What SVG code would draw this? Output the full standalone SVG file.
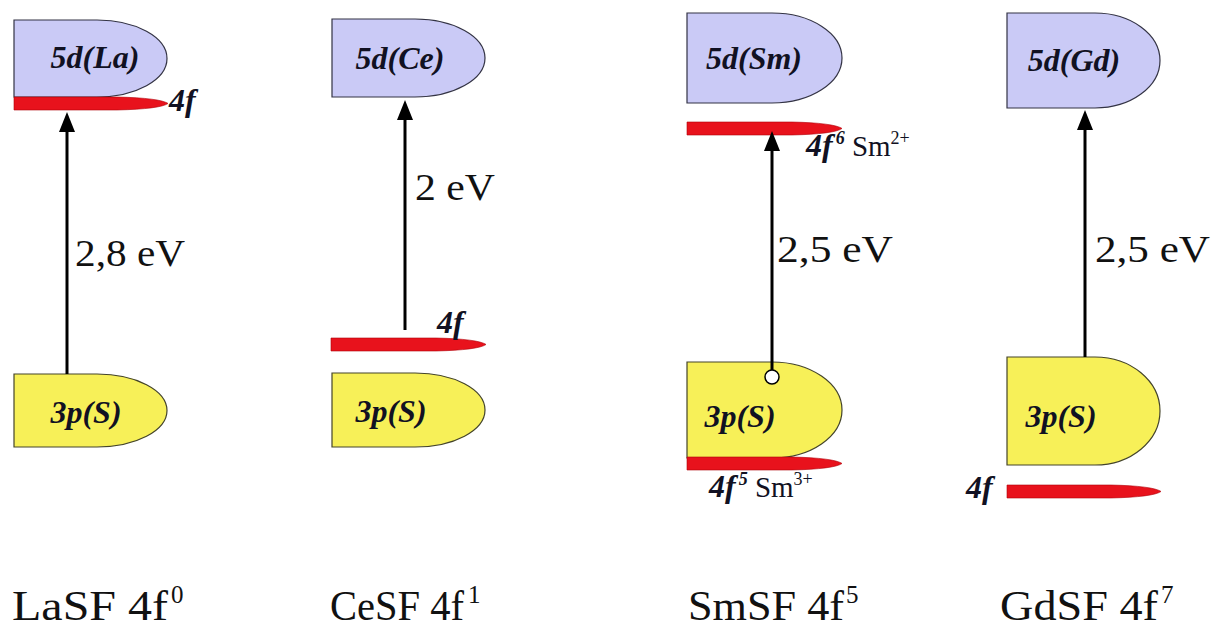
<svg xmlns="http://www.w3.org/2000/svg" width="1215" height="628" viewBox="0 0 1215 628">
<style>
.d5{fill:#cacaf6;stroke:#333344;stroke-width:1.2}
.p3{fill:#f7f058;stroke:#44442a;stroke-width:1.2}
.f4{fill:#e8121c;stroke:#b00008;stroke-width:0.6}
.lbl{font-family:"Liberation Serif","Times New Roman",serif;font-weight:bold;font-style:italic;font-size:32px;fill:#111122}
.ev{font-family:"Liberation Serif","Times New Roman",serif;font-size:38px;fill:#111}
.cap{font-family:"Liberation Serif","Times New Roman",serif;font-size:42px;fill:#111}
.sup{font-family:"Liberation Serif","Times New Roman",serif;font-size:25px;fill:#111}
.arr{stroke:#000;stroke-width:3;fill:none}
</style>
<defs>
<marker id="ah" viewBox="0 0 20 16" refX="14" refY="8" markerWidth="20" markerHeight="16" markerUnits="userSpaceOnUse" orient="auto">
<path d="M0,0 L20,8 L0,16 Z" fill="#000"/>
</marker>
</defs>
<rect width="1215" height="628" fill="#fff"/>

<g id="la">
<path id="la-5d" class="d5" d="M14,20 H97 A70,38.5 0 0 1 97,97 H14 Z"/>
<text class="lbl" x="95" y="68" text-anchor="middle">5d(La)</text>
<path id="la-4f" class="f4" d="M14,97 H117 Q160,98 168,103.5 Q160,109 117,110 H14 Z"/>
<text class="lbl" x="169" y="111">4f</text>
<path id="la-3p" class="p3" d="M14,374 H97 A70,36.5 0 0 1 97,447 H14 Z"/>
<text class="lbl" x="86" y="423" text-anchor="middle">3p(S)</text>
<text class="cap" x="12" y="620" textLength="156" lengthAdjust="spacingAndGlyphs">LaSF 4f</text>
<text class="sup" x="171" y="603">0</text>
</g>

<g id="ce">
<path id="ce-5d" class="d5" d="M332,19 H415 A70,39 0 0 1 415,97 H332 Z"/>
<text class="lbl" x="400" y="69" text-anchor="middle">5d(Ce)</text>
<path id="ce-4f" class="f4" d="M331,338 H436 Q478,339 486,344.5 Q478,350 436,351 H331 Z"/>
<text class="lbl" x="437" y="333">4f</text>
<path id="ce-3p" class="p3" d="M332,373 H415 A70,37 0 0 1 415,447 H332 Z"/>
<text class="lbl" x="391" y="422" text-anchor="middle">3p(S)</text>
<text class="cap" x="330" y="620" textLength="134" lengthAdjust="spacingAndGlyphs">CeSF 4f</text>
<text class="sup" x="468" y="603">1</text>
</g>

<g id="sm">
<path id="sm-5d" class="d5" d="M687,13 H772 A70,45 0 0 1 772,103 H687 Z"/>
<text class="lbl" x="754" y="69" text-anchor="middle">5d(Sm)</text>
<path id="sm-4f6" class="f4" d="M687,122 H792 Q834,123 842,128.5 Q834,134 792,135 H687 Z"/>
<text class="lbl" x="806" y="156">4f<tspan font-size="18" dx="3" dy="-12">6</tspan><tspan font-weight="normal" font-style="normal" font-size="29" dy="12"> Sm</tspan><tspan font-weight="normal" font-style="normal" font-size="18" dy="-12">2+</tspan></text>
<path id="sm-3p" class="p3" d="M687,362 H772 A70,48 0 0 1 772,458 H687 Z"/>
<text class="lbl" x="740" y="427" text-anchor="middle">3p(S)</text>
<path id="sm-4f5" class="f4" d="M687,457 H792 Q834,458 842,463.5 Q834,469 792,470 H687 Z"/>
<text class="lbl" x="709" y="497">4f<tspan font-size="18" dx="3" dy="-12">5</tspan><tspan font-weight="normal" font-style="normal" font-size="29" dy="12"> Sm</tspan><tspan font-weight="normal" font-style="normal" font-size="18" dy="-12">3+</tspan></text>
<text class="cap" x="688" y="620" textLength="156" lengthAdjust="spacingAndGlyphs">SmSF 4f</text>
<text class="sup" x="846" y="603">5</text>
</g>

<g id="gd">
<path id="gd-5d" class="d5" d="M1007,13 H1095 A65,47.5 0 0 1 1095,108 H1007 Z"/>
<text class="lbl" x="1074" y="71" text-anchor="middle">5d(Gd)</text>
<path id="gd-3p" class="p3" d="M1007,357 H1095 A65,54 0 0 1 1095,465 H1007 Z"/>
<text class="lbl" x="1061" y="427" text-anchor="middle">3p(S)</text>
<path id="gd-4f" class="f4" d="M1007,485 H1111 Q1153,486 1161,491.5 Q1153,497 1111,498 H1007 Z"/>
<text class="lbl" x="966" y="498">4f</text>
<text class="cap" x="1000" y="620" textLength="158" lengthAdjust="spacingAndGlyphs">GdSF  4f</text>
<text class="sup" x="1161" y="603">7</text>
</g>

<g id="connectors">
<line class="arr" x1="67" y1="374" x2="67" y2="118" marker-end="url(#ah)"/>
<text class="ev" x="75" y="266" textLength="110" lengthAdjust="spacingAndGlyphs">2,8 eV</text>
<line class="arr" x1="405" y1="330" x2="405" y2="106" marker-end="url(#ah)"/>
<text class="ev" x="415" y="200" textLength="80" lengthAdjust="spacingAndGlyphs">2 eV</text>
<line class="arr" x1="772" y1="370" x2="772" y2="137" marker-end="url(#ah)"/>
<circle cx="772" cy="377" r="7" fill="#fff" stroke="#000" stroke-width="1.5"/>
<text class="ev" x="777" y="262" textLength="116" lengthAdjust="spacingAndGlyphs">2,5 eV</text>
<line class="arr" x1="1085" y1="357" x2="1085" y2="116" marker-end="url(#ah)"/>
<text class="ev" x="1095" y="262" textLength="115" lengthAdjust="spacingAndGlyphs">2,5 eV</text>
</g>
</svg>
